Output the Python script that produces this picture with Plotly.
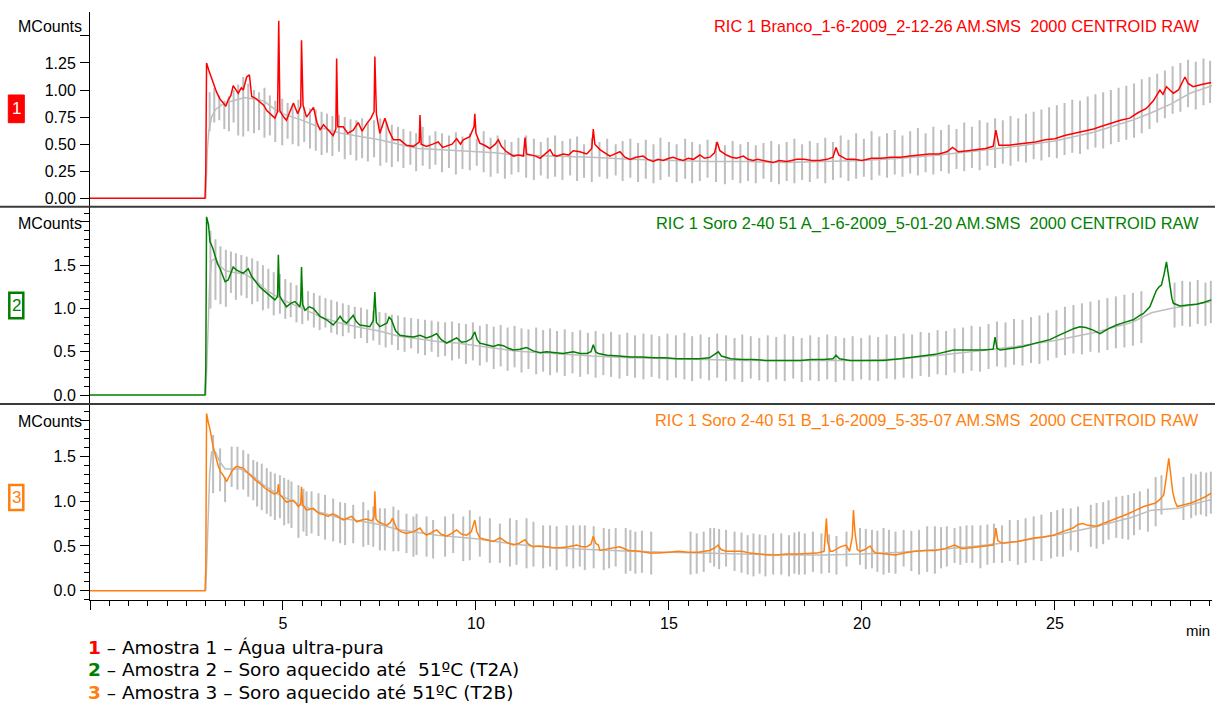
import plotly.graph_objects as go

# ---------------- DATA ----------------
# retention time (min), intensity (MCounts)
ric1 = [(0.0, 0.0), (2.98, 0.0), (3.00, 0.25), (3.02, 1.25), (3.08, 1.18), (3.19, 1.06), (3.28, 0.98),
        (3.36, 0.92), (3.45, 0.88), (3.52, 0.85), (3.58, 0.91), (3.65, 0.95), (3.71, 1.04), (3.78, 1.00),
        (3.84, 0.97), (3.92, 1.02), (3.97, 1.00), (4.06, 1.12), (4.13, 1.14), (4.19, 0.94), (4.30, 0.92),
        (4.40, 0.89), (4.50, 0.86), (4.58, 0.81), (4.68, 0.78), (4.79, 0.74), (4.86, 0.80), (4.89, 1.64),
        (4.92, 0.81), (5.00, 0.76), (5.09, 0.72), (5.18, 0.80), (5.27, 0.88), (5.38, 0.78), (5.46, 0.85),
        (5.48, 1.46), (5.52, 0.86), (5.61, 0.75), (5.70, 0.80), (5.79, 0.84), (5.88, 0.70), (5.96, 0.63),
        (6.05, 0.68), (6.13, 0.65), (6.22, 0.61), (6.30, 0.58), (6.37, 0.64), (6.39, 1.29), (6.42, 0.66),
        (6.56, 0.66), (6.68, 0.60), (6.82, 0.63), (6.95, 0.70), (7.05, 0.62), (7.17, 0.69), (7.28, 0.74),
        (7.36, 0.80), (7.38, 1.31), (7.42, 0.78), (7.51, 0.60), (7.64, 0.74), (7.75, 0.62), (7.86, 0.54),
        (8.03, 0.54), (8.20, 0.49), (8.38, 0.48), (8.53, 0.52), (8.55, 0.77), (8.58, 0.50), (8.72, 0.48),
        (8.88, 0.50), (9.02, 0.52), (9.14, 0.47), (9.24, 0.48), (9.38, 0.50), (9.50, 0.55), (9.60, 0.50),
        (9.67, 0.54), (9.84, 0.57), (9.95, 0.66), (9.97, 0.78), (10.00, 0.60), (10.10, 0.51), (10.22, 0.49),
        (10.36, 0.46), (10.50, 0.50), (10.58, 0.54), (10.66, 0.48), (10.79, 0.43), (10.97, 0.39), (11.10, 0.40),
        (11.23, 0.39), (11.27, 0.56), (11.31, 0.41), (11.40, 0.40), (11.55, 0.39), (11.66, 0.37), (11.80, 0.41),
        (11.92, 0.45), (12.00, 0.40), (12.09, 0.39), (12.26, 0.41), (12.40, 0.40), (12.52, 0.44), (12.69, 0.43),
        (12.87, 0.41), (13.00, 0.46), (13.04, 0.64), (13.08, 0.50), (13.21, 0.45), (13.35, 0.42), (13.47, 0.39),
        (13.60, 0.41), (13.73, 0.43), (13.86, 0.38), (13.99, 0.36), (14.15, 0.38), (14.33, 0.39), (14.45, 0.36),
        (14.59, 0.34), (14.72, 0.36), (14.85, 0.35), (15.00, 0.37), (15.11, 0.38), (15.25, 0.36), (15.37, 0.35),
        (15.50, 0.37), (15.63, 0.36), (15.80, 0.40), (15.92, 0.37), (16.06, 0.38), (16.18, 0.42), (16.25, 0.52),
        (16.32, 0.44), (16.49, 0.40), (16.62, 0.38), (16.75, 0.37), (16.93, 0.39), (17.05, 0.36), (17.18, 0.35),
        (17.30, 0.36), (17.44, 0.35), (17.58, 0.34), (17.70, 0.33), (17.85, 0.35), (18.05, 0.34), (18.18, 0.35),
        (18.31, 0.36), (18.50, 0.36), (18.70, 0.35), (18.90, 0.35), (19.10, 0.36), (19.25, 0.38), (19.33, 0.47),
        (19.40, 0.40), (19.60, 0.36), (19.80, 0.36), (20.00, 0.35), (20.25, 0.37), (20.50, 0.37), (20.75, 0.38),
        (21.00, 0.38), (21.25, 0.39), (21.50, 0.40), (21.75, 0.41), (22.00, 0.41), (22.20, 0.43), (22.35, 0.47),
        (22.50, 0.43), (22.75, 0.44), (23.00, 0.45), (23.20, 0.46), (23.40, 0.48), (23.47, 0.63), (23.55, 0.49),
        (23.80, 0.49), (24.00, 0.50), (24.25, 0.51), (24.50, 0.52), (24.75, 0.54), (25.00, 0.55), (25.25, 0.58),
        (25.50, 0.60), (25.75, 0.62), (26.00, 0.64), (26.25, 0.67), (26.50, 0.70), (26.70, 0.72), (26.94, 0.74),
        (27.15, 0.79), (27.37, 0.83), (27.55, 0.90), (27.72, 1.00), (27.80, 0.96), (27.89, 1.03), (28.07, 0.97),
        (28.20, 1.00), (28.30, 1.08), (28.37, 1.12), (28.45, 1.06), (28.58, 1.03), (28.80, 1.05), (29.05, 1.07)]

ric2 = [(0.0, 0.0), (2.98, 0.0), (3.00, 0.30), (3.02, 2.06), (3.07, 1.97), (3.11, 1.77), (3.18, 1.70),
        (3.24, 1.60), (3.30, 1.52), (3.37, 1.46), (3.44, 1.38), (3.50, 1.31), (3.58, 1.33), (3.65, 1.42),
        (3.71, 1.48), (3.78, 1.45), (3.84, 1.43), (3.90, 1.42), (3.97, 1.41), (4.04, 1.44), (4.10, 1.46),
        (4.19, 1.37), (4.30, 1.30), (4.40, 1.25), (4.50, 1.21), (4.62, 1.16), (4.72, 1.12), (4.79, 1.10),
        (4.86, 1.14), (4.88, 1.62), (4.91, 1.15), (4.97, 1.10), (5.09, 1.02), (5.20, 1.06), (5.31, 1.08),
        (5.44, 1.02), (5.46, 1.10), (5.48, 1.48), (5.51, 1.05), (5.57, 0.98), (5.68, 1.02), (5.79, 1.00),
        (5.88, 0.95), (5.96, 0.91), (6.13, 0.87), (6.30, 0.81), (6.40, 0.86), (6.48, 0.91), (6.56, 0.86),
        (6.65, 0.83), (6.74, 0.88), (6.82, 0.92), (6.90, 0.85), (6.99, 0.81), (7.12, 0.80), (7.25, 0.79),
        (7.34, 0.86), (7.38, 1.19), (7.42, 0.84), (7.51, 0.79), (7.60, 0.81), (7.69, 0.83), (7.75, 0.90),
        (7.81, 0.87), (7.92, 0.74), (8.03, 0.69), (8.20, 0.68), (8.38, 0.67), (8.55, 0.69), (8.72, 0.66),
        (8.85, 0.68), (8.98, 0.71), (9.10, 0.64), (9.24, 0.60), (9.37, 0.63), (9.50, 0.66), (9.63, 0.61),
        (9.76, 0.62), (9.88, 0.65), (9.97, 0.73), (10.03, 0.64), (10.10, 0.60), (10.27, 0.58), (10.45, 0.56),
        (10.58, 0.58), (10.71, 0.57), (10.84, 0.54), (10.97, 0.52), (11.14, 0.53), (11.31, 0.55), (11.48, 0.51),
        (11.66, 0.49), (11.83, 0.50), (12.00, 0.49), (12.26, 0.48), (12.52, 0.50), (12.70, 0.48), (12.87, 0.48),
        (12.98, 0.50), (13.04, 0.58), (13.10, 0.50), (13.17, 0.48), (13.40, 0.46), (13.70, 0.45), (14.00, 0.44),
        (14.30, 0.44), (14.60, 0.43), (14.90, 0.43), (15.20, 0.42), (15.50, 0.42), (15.80, 0.42), (16.05, 0.43),
        (16.20, 0.47), (16.28, 0.50), (16.36, 0.45), (16.60, 0.42), (16.90, 0.41), (17.20, 0.41), (17.50, 0.40),
        (17.80, 0.40), (18.10, 0.40), (18.40, 0.40), (18.70, 0.41), (19.00, 0.41), (19.25, 0.42), (19.33, 0.46),
        (19.42, 0.42), (19.69, 0.40), (20.10, 0.40), (20.55, 0.40), (21.00, 0.42), (21.42, 0.44), (21.90, 0.47),
        (22.37, 0.52), (22.75, 0.52), (23.14, 0.52), (23.40, 0.53), (23.45, 0.67), (23.50, 0.54), (23.58, 0.52),
        (23.90, 0.54), (24.18, 0.56), (24.50, 0.60), (24.87, 0.64), (25.10, 0.69), (25.30, 0.73), (25.50, 0.77),
        (25.65, 0.79), (25.80, 0.78), (25.99, 0.75), (26.17, 0.71), (26.40, 0.77), (26.60, 0.81), (26.80, 0.84),
        (27.03, 0.87), (27.20, 0.92), (27.29, 0.94), (27.46, 1.02), (27.55, 1.12), (27.63, 1.21), (27.70, 1.25),
        (27.76, 1.27), (27.83, 1.40), (27.89, 1.54), (27.93, 1.42), (27.98, 1.25), (28.03, 1.12), (28.07, 1.06),
        (28.24, 1.03), (28.45, 1.04), (28.67, 1.05), (28.85, 1.07), (29.05, 1.10)]

ric3 = [(0.0, 0.0), (2.98, 0.0), (3.00, 0.25), (3.02, 1.98), (3.07, 1.87), (3.11, 1.80), (3.19, 1.61),
        (3.25, 1.50), (3.32, 1.40), (3.38, 1.33), (3.45, 1.29), (3.54, 1.22), (3.60, 1.27), (3.67, 1.33),
        (3.74, 1.37), (3.80, 1.39), (3.88, 1.38), (3.97, 1.37), (4.08, 1.32), (4.19, 1.27), (4.30, 1.23),
        (4.40, 1.20), (4.52, 1.15), (4.66, 1.11), (4.78, 1.08), (4.86, 1.10), (4.88, 1.19), (4.91, 1.08),
        (5.00, 1.03), (5.09, 0.99), (5.18, 1.00), (5.27, 1.01), (5.40, 0.94), (5.46, 0.97), (5.48, 1.16),
        (5.51, 0.96), (5.61, 0.90), (5.70, 0.91), (5.79, 0.92), (5.88, 0.88), (5.96, 0.86), (6.06, 0.85),
        (6.17, 0.83), (6.28, 0.86), (6.39, 0.84), (6.48, 0.81), (6.56, 0.79), (6.67, 0.81), (6.78, 0.83),
        (6.91, 0.77), (7.04, 0.79), (7.17, 0.80), (7.30, 0.78), (7.36, 0.82), (7.38, 1.11), (7.41, 0.80),
        (7.47, 0.77), (7.58, 0.75), (7.69, 0.73), (7.78, 0.76), (7.84, 0.81), (7.94, 0.70), (8.05, 0.66),
        (8.20, 0.64), (8.38, 0.66), (8.55, 0.70), (8.63, 0.65), (8.72, 0.62), (8.85, 0.65), (8.98, 0.68),
        (9.10, 0.63), (9.24, 0.61), (9.37, 0.64), (9.50, 0.68), (9.63, 0.63), (9.76, 0.62), (9.88, 0.66),
        (9.97, 0.79), (10.02, 0.66), (10.10, 0.59), (10.27, 0.57), (10.45, 0.55), (10.62, 0.59), (10.80, 0.54),
        (10.97, 0.51), (11.12, 0.53), (11.27, 0.57), (11.36, 0.52), (11.48, 0.49), (11.65, 0.50), (11.83, 0.49),
        (12.00, 0.48), (12.18, 0.48), (12.40, 0.49), (12.61, 0.51), (12.75, 0.49), (12.87, 0.49), (12.98, 0.52),
        (13.04, 0.61), (13.10, 0.53), (13.17, 0.51), (13.21, 0.45), (13.45, 0.47), (13.72, 0.49), (13.95, 0.45),
        (14.23, 0.44), (14.50, 0.42), (14.74, 0.42), (15.00, 0.43), (15.25, 0.44), (15.50, 0.43), (15.76, 0.43),
        (16.05, 0.45), (16.20, 0.48), (16.27, 0.51), (16.35, 0.46), (16.48, 0.44), (16.70, 0.44), (16.89, 0.44),
        (17.10, 0.42), (17.30, 0.41), (17.55, 0.40), (17.81, 0.40), (18.05, 0.41), (18.32, 0.41), (18.60, 0.42),
        (18.83, 0.42), (19.02, 0.44), (19.06, 0.70), (19.08, 0.81), (19.11, 0.55), (19.18, 0.44), (19.24, 0.44),
        (19.35, 0.47), (19.44, 0.49), (19.59, 0.51), (19.68, 0.44), (19.75, 0.60), (19.78, 0.90), (19.82, 0.65),
        (19.88, 0.46), (19.95, 0.44), (20.08, 0.46), (20.21, 0.50), (20.30, 0.44), (20.36, 0.42), (20.60, 0.41),
        (20.87, 0.40), (21.10, 0.42), (21.38, 0.44), (21.65, 0.45), (21.89, 0.45), (22.15, 0.47), (22.30, 0.49),
        (22.40, 0.51), (22.61, 0.47), (22.80, 0.48), (23.02, 0.49), (23.25, 0.50), (23.40, 0.51), (23.45, 0.62),
        (23.47, 0.70), (23.52, 0.56), (23.63, 0.53), (23.85, 0.54), (24.04, 0.55), (24.25, 0.57), (24.45, 0.59),
        (24.70, 0.60), (24.96, 0.62), (25.20, 0.66), (25.47, 0.70), (25.60, 0.74), (25.72, 0.75), (25.85, 0.73),
        (26.08, 0.72), (26.30, 0.76), (26.49, 0.79), (26.70, 0.82), (26.90, 0.86), (27.10, 0.90), (27.30, 0.94),
        (27.45, 0.96), (27.61, 0.98), (27.72, 1.02), (27.82, 1.07), (27.88, 1.25), (27.95, 1.48), (28.00, 1.30),
        (28.05, 1.11), (28.11, 1.00), (28.17, 0.94), (28.35, 0.96), (28.53, 0.98), (28.75, 1.02), (28.90, 1.05),
        (29.05, 1.09)]

# grey reference trace (smooth part)
grey1 = [(3.00, 0.00), (3.04, 0.45), (3.08, 0.62), (3.15, 0.75), (3.25, 0.82), (3.40, 0.86), (3.60, 0.89),
         (3.80, 0.91), (4.00, 0.93), (4.20, 0.92), (4.50, 0.90), (4.80, 0.82), (5.00, 0.78), (5.50, 0.72),
         (6.00, 0.65), (6.50, 0.60), (7.00, 0.57), (7.50, 0.54), (8.00, 0.50), (8.50, 0.46), (9.00, 0.45),
         (9.50, 0.44), (10.00, 0.43), (10.50, 0.42), (11.00, 0.40), (12.00, 0.39), (13.00, 0.38), (14.00, 0.36),
         (15.00, 0.35), (16.00, 0.34), (17.00, 0.34), (18.00, 0.33), (19.00, 0.34), (20.00, 0.35), (21.00, 0.37),
         (22.00, 0.40), (23.00, 0.44), (24.00, 0.48), (25.00, 0.53), (26.00, 0.61), (27.00, 0.72), (27.50, 0.79),
         (28.00, 0.87), (28.50, 0.97), (29.07, 1.04)]

grey2 = [(3.00, 0.00), (3.03, 0.40), (3.06, 0.95), (3.10, 1.30), (3.15, 1.55), (3.25, 1.58), (3.35, 1.50),
         (3.50, 1.44), (3.70, 1.42), (4.00, 1.40), (4.30, 1.32), (4.60, 1.20), (5.00, 1.10), (5.50, 1.00),
         (6.00, 0.90), (6.50, 0.83), (7.00, 0.78), (7.50, 0.74), (8.00, 0.68), (8.50, 0.65), (9.00, 0.62),
         (9.50, 0.60), (10.00, 0.57), (10.50, 0.54), (11.00, 0.51), (12.00, 0.48), (13.00, 0.45), (14.00, 0.43),
         (15.00, 0.42), (16.00, 0.41), (17.00, 0.40), (18.00, 0.40), (19.00, 0.40), (20.00, 0.40), (21.00, 0.42),
         (22.00, 0.46), (23.00, 0.51), (24.00, 0.56), (25.00, 0.63), (26.00, 0.72), (27.00, 0.84), (27.50, 0.95),
         (28.00, 1.00), (28.50, 1.04), (29.07, 1.08)]

grey3 = [(3.00, 0.00), (3.03, 0.40), (3.06, 0.90), (3.10, 1.30), (3.15, 1.55), (3.25, 1.55), (3.35, 1.45),
         (3.50, 1.36), (3.70, 1.36), (3.90, 1.36), (4.20, 1.29), (4.50, 1.18), (4.90, 1.07), (5.50, 0.95),
         (6.00, 0.87), (6.50, 0.81), (7.00, 0.78), (7.50, 0.74), (8.00, 0.68), (8.50, 0.65), (9.00, 0.62),
         (9.50, 0.60), (10.00, 0.58), (10.50, 0.55), (11.00, 0.52), (11.50, 0.50), (12.00, 0.48), (12.50, 0.47),
         (13.00, 0.46), (14.00, 0.44), (15.00, 0.43), (16.00, 0.42), (17.00, 0.41), (18.00, 0.40), (19.00, 0.40),
         (20.00, 0.41), (21.00, 0.43), (22.00, 0.46), (23.00, 0.50), (24.00, 0.55), (25.00, 0.62), (26.00, 0.71),
         (27.00, 0.82), (27.50, 0.90), (28.20, 0.92), (28.60, 0.97), (29.07, 1.02)]

# grey vertical dropouts: (time, low, high)
drop1 = [(3.10, 0.62, 0.98), (3.22, 0.70, 1.02), (3.35, 0.72, 0.95), (3.48, 0.64, 0.90), (3.60, 0.62, 0.94),
         (3.72, 0.70, 1.00), (3.84, 0.58, 1.05), (3.97, 0.57, 1.12), (4.10, 0.62, 1.06), (4.25, 0.60, 1.00),
         (4.38, 0.63, 0.98), (4.52, 0.56, 1.02), (4.66, 0.58, 0.95), (4.80, 0.52, 0.90), (4.98, 0.49, 0.92),
         (5.12, 0.55, 0.88), (5.25, 0.50, 0.86), (5.40, 0.48, 0.91), (5.55, 0.52, 0.84), (5.70, 0.46, 0.83),
         (5.85, 0.44, 0.82), (6.00, 0.40, 0.80), (6.14, 0.42, 0.78), (6.28, 0.39, 0.76), (6.45, 0.43, 0.77),
         (6.60, 0.36, 0.75), (6.75, 0.40, 0.73), (6.90, 0.35, 0.72), (7.05, 0.37, 0.74), (7.20, 0.34, 0.70),
         (7.36, 0.38, 0.72), (7.52, 0.30, 0.74), (7.68, 0.33, 0.70), (7.82, 0.29, 0.68), (7.98, 0.34, 0.66),
         (8.12, 0.28, 0.64), (8.30, 0.31, 0.62), (8.45, 0.25, 0.60), (8.62, 0.30, 0.66), (8.80, 0.27, 0.58),
         (8.95, 0.31, 0.62), (9.12, 0.24, 0.60), (9.30, 0.28, 0.58), (9.48, 0.22, 0.61), (9.65, 0.27, 0.57),
         (9.84, 0.26, 0.60), (10.02, 0.30, 0.55), (10.20, 0.24, 0.62), (10.38, 0.20, 0.56), (10.56, 0.23, 0.58),
         (10.75, 0.18, 0.54), (10.92, 0.22, 0.52), (11.10, 0.24, 0.56), (11.30, 0.19, 0.58), (11.50, 0.17, 0.55),
         (11.68, 0.21, 0.52), (11.86, 0.18, 0.56), (12.05, 0.20, 0.58), (12.24, 0.17, 0.53), (12.44, 0.21, 0.55),
         (12.62, 0.16, 0.57), (12.80, 0.19, 0.50), (13.00, 0.15, 0.56), (13.20, 0.20, 0.52), (13.40, 0.18, 0.55),
         (13.62, 0.21, 0.50), (13.80, 0.16, 0.53), (14.00, 0.19, 0.55), (14.20, 0.15, 0.51), (14.40, 0.18, 0.54),
         (14.60, 0.14, 0.50), (14.78, 0.17, 0.56), (15.00, 0.20, 0.52), (15.20, 0.15, 0.50), (15.42, 0.18, 0.55),
         (15.60, 0.14, 0.52), (15.80, 0.16, 0.50), (16.00, 0.19, 0.54), (16.22, 0.15, 0.52), (16.45, 0.13, 0.49),
         (16.65, 0.17, 0.53), (16.85, 0.14, 0.50), (17.05, 0.16, 0.52), (17.25, 0.14, 0.49), (17.45, 0.18, 0.51),
         (17.65, 0.15, 0.53), (17.85, 0.13, 0.50), (18.05, 0.16, 0.52), (18.25, 0.14, 0.55), (18.45, 0.17, 0.50),
         (18.65, 0.15, 0.53), (18.85, 0.18, 0.51), (19.05, 0.14, 0.56), (19.25, 0.17, 0.52), (19.45, 0.19, 0.58),
         (19.65, 0.16, 0.54), (19.85, 0.18, 0.60), (20.05, 0.20, 0.55), (20.25, 0.17, 0.62), (20.45, 0.21, 0.57),
         (20.65, 0.19, 0.60), (20.85, 0.22, 0.63), (21.05, 0.20, 0.58), (21.25, 0.23, 0.62), (21.45, 0.21, 0.65),
         (21.65, 0.24, 0.60), (21.85, 0.22, 0.66), (22.05, 0.25, 0.63), (22.25, 0.23, 0.68), (22.45, 0.27, 0.64),
         (22.65, 0.25, 0.70), (22.85, 0.28, 0.66), (23.05, 0.26, 0.72), (23.25, 0.30, 0.70), (23.45, 0.28, 0.74),
         (23.65, 0.32, 0.72), (23.85, 0.30, 0.76), (24.05, 0.34, 0.74), (24.25, 0.33, 0.78), (24.45, 0.36, 0.80),
         (24.65, 0.35, 0.82), (24.85, 0.38, 0.84), (25.05, 0.37, 0.86), (25.25, 0.40, 0.88), (25.45, 0.42, 0.91),
         (25.65, 0.41, 0.90), (25.85, 0.45, 0.94), (26.05, 0.47, 0.96), (26.25, 0.46, 0.98), (26.45, 0.50, 1.00),
         (26.65, 0.52, 1.02), (26.85, 0.54, 1.04), (27.05, 0.56, 1.06), (27.25, 0.60, 1.10), (27.45, 0.64, 1.12),
         (27.65, 0.70, 1.15), (27.85, 0.74, 1.18), (28.05, 0.78, 1.22), (28.25, 0.80, 1.25), (28.45, 0.84, 1.28),
         (28.65, 0.82, 1.26), (28.85, 0.86, 1.29), (29.02, 0.88, 1.27)]

drop2 = [(3.12, 1.00, 1.90), (3.25, 1.10, 1.80), (3.38, 1.05, 1.72), (3.52, 1.02, 1.68), (3.65, 1.18, 1.66),
         (3.78, 1.10, 1.64), (3.92, 1.15, 1.62), (4.06, 1.12, 1.60), (4.20, 1.05, 1.58), (4.34, 1.08, 1.55),
         (4.48, 0.98, 1.50), (4.62, 1.00, 1.46), (4.76, 0.92, 1.42), (4.92, 0.94, 1.40), (5.06, 0.88, 1.34),
         (5.20, 0.90, 1.30), (5.35, 0.84, 1.27), (5.50, 0.82, 1.24), (5.65, 0.86, 1.20), (5.80, 0.78, 1.18),
         (5.95, 0.75, 1.15), (6.10, 0.78, 1.12), (6.25, 0.72, 1.10), (6.40, 0.70, 1.08), (6.55, 0.68, 1.06),
         (6.70, 0.72, 1.04), (6.86, 0.65, 1.02), (7.02, 0.66, 1.01), (7.18, 0.60, 0.99), (7.34, 0.63, 0.97),
         (7.50, 0.58, 0.96), (7.66, 0.55, 0.95), (7.82, 0.58, 0.93), (7.98, 0.52, 0.92), (8.15, 0.50, 0.90),
         (8.32, 0.54, 0.89), (8.50, 0.48, 0.88), (8.68, 0.46, 0.87), (8.85, 0.50, 0.86), (9.02, 0.44, 0.85),
         (9.20, 0.45, 0.84), (9.38, 0.40, 0.85), (9.56, 0.42, 0.83), (9.74, 0.36, 0.82), (9.92, 0.40, 0.84),
         (10.10, 0.34, 0.80), (10.28, 0.38, 0.82), (10.46, 0.30, 0.79), (10.64, 0.33, 0.81), (10.82, 0.28, 0.78),
         (11.00, 0.32, 0.80), (11.18, 0.26, 0.77), (11.36, 0.30, 0.76), (11.56, 0.24, 0.78), (11.74, 0.27, 0.75),
         (11.92, 0.23, 0.77), (12.10, 0.26, 0.74), (12.30, 0.22, 0.76), (12.50, 0.25, 0.73), (12.70, 0.21, 0.75),
         (12.90, 0.24, 0.72), (13.10, 0.20, 0.74), (13.30, 0.23, 0.71), (13.50, 0.21, 0.73), (13.72, 0.19, 0.70),
         (13.92, 0.22, 0.72), (14.12, 0.20, 0.69), (14.34, 0.18, 0.71), (14.55, 0.21, 0.70), (14.75, 0.19, 0.68),
         (14.96, 0.17, 0.71), (15.18, 0.20, 0.69), (15.40, 0.18, 0.72), (15.60, 0.16, 0.68), (15.82, 0.19, 0.70),
         (16.04, 0.17, 0.67), (16.25, 0.20, 0.71), (16.48, 0.16, 0.69), (16.70, 0.18, 0.66), (16.90, 0.15, 0.70),
         (17.12, 0.19, 0.68), (17.34, 0.17, 0.66), (17.56, 0.15, 0.69), (17.78, 0.18, 0.67), (18.00, 0.16, 0.70),
         (18.22, 0.19, 0.68), (18.44, 0.15, 0.66), (18.66, 0.17, 0.69), (18.88, 0.16, 0.67), (19.10, 0.18, 0.70),
         (19.32, 0.15, 0.68), (19.54, 0.17, 0.66), (19.76, 0.16, 0.68), (19.98, 0.18, 0.66), (20.20, 0.17, 0.69),
         (20.42, 0.16, 0.67), (20.64, 0.19, 0.70), (20.86, 0.18, 0.68), (21.08, 0.20, 0.71), (21.30, 0.19, 0.70),
         (21.52, 0.22, 0.73), (21.74, 0.21, 0.72), (21.96, 0.24, 0.75), (22.18, 0.23, 0.74), (22.40, 0.26, 0.77),
         (22.62, 0.25, 0.78), (22.84, 0.28, 0.80), (23.06, 0.27, 0.79), (23.28, 0.30, 0.82), (23.50, 0.33, 0.85),
         (23.72, 0.32, 0.84), (23.94, 0.35, 0.88), (24.16, 0.34, 0.87), (24.38, 0.37, 0.90), (24.60, 0.36, 0.92),
         (24.82, 0.40, 0.95), (25.04, 0.43, 0.98), (25.26, 0.46, 1.02), (25.48, 0.48, 1.04), (25.70, 0.47, 1.06),
         (25.92, 0.50, 1.08), (26.14, 0.49, 1.10), (26.36, 0.52, 1.12), (26.58, 0.54, 1.14), (26.80, 0.55, 1.16),
         (27.02, 0.57, 1.18), (27.24, 0.60, 1.20), (28.10, 0.78, 1.30), (28.30, 0.80, 1.32), (28.50, 0.79, 1.31),
         (28.70, 0.82, 1.33), (28.90, 0.80, 1.30), (29.04, 0.83, 1.32)]

drop3 = [(3.19, 1.09, 1.74), (3.37, 1.11, 1.59), (3.50, 0.99, 1.27), (3.67, 1.16, 1.61), (3.82, 1.13, 1.61),
         (3.97, 1.13, 1.57), (4.10, 1.05, 1.53), (4.23, 1.01, 1.46), (4.33, 0.94, 1.44), (4.45, 0.90, 1.42),
         (4.58, 0.86, 1.37), (4.68, 0.83, 1.33), (4.79, 0.79, 1.31), (4.92, 0.81, 1.29), (5.03, 0.73, 1.26),
         (5.14, 0.75, 1.24), (5.22, 0.70, 1.22), (5.40, 0.59, 1.18), (5.53, 0.66, 1.14), (5.61, 0.61, 1.11),
         (5.74, 0.64, 1.11), (5.92, 0.61, 1.09), (6.09, 0.57, 1.07), (6.30, 0.55, 1.03), (6.48, 0.53, 0.99),
         (6.61, 0.51, 0.98), (6.82, 0.53, 0.96), (7.08, 0.49, 0.99), (7.21, 0.51, 0.90), (7.34, 0.49, 0.94),
         (7.51, 0.45, 0.92), (7.64, 0.45, 0.92), (7.86, 0.44, 0.94), (7.99, 0.44, 0.90), (8.20, 0.42, 0.86),
         (8.38, 0.38, 0.83), (8.46, 0.40, 0.86), (8.72, 0.38, 0.83), (8.89, 0.36, 0.79), (9.20, 0.38, 0.83),
         (9.41, 0.42, 0.86), (9.67, 0.33, 0.83), (9.84, 0.34, 0.90), (10.10, 0.38, 0.83), (10.36, 0.31, 0.81),
         (10.62, 0.31, 0.75), (10.88, 0.27, 0.81), (11.05, 0.29, 0.79), (11.31, 0.25, 0.81), (11.49, 0.27, 0.77),
         (11.74, 0.25, 0.73), (11.92, 0.27, 0.73), (12.09, 0.23, 0.72), (12.35, 0.27, 0.73), (12.52, 0.25, 0.73),
         (12.69, 0.27, 0.73), (12.82, 0.23, 0.73), (13.05, 0.25, 0.72), (13.31, 0.23, 0.70), (13.45, 0.25, 0.69),
         (13.62, 0.27, 0.70), (13.88, 0.19, 0.70), (14.00, 0.22, 0.68), (14.13, 0.19, 0.66), (14.30, 0.20, 0.67),
         (14.54, 0.18, 0.66), (15.56, 0.18, 0.66), (15.72, 0.19, 0.64), (15.90, 0.21, 0.66), (16.07, 0.31, 0.70),
         (16.17, 0.27, 0.70), (16.30, 0.24, 0.69), (16.48, 0.27, 0.68), (16.70, 0.22, 0.66), (16.88, 0.20, 0.65),
         (17.04, 0.18, 0.62), (17.19, 0.16, 0.64), (17.35, 0.19, 0.63), (17.50, 0.16, 0.62), (17.70, 0.18, 0.64),
         (17.91, 0.18, 0.64), (18.11, 0.16, 0.62), (18.25, 0.19, 0.65), (18.37, 0.18, 0.66), (18.52, 0.18, 0.64),
         (18.73, 0.21, 0.66), (18.95, 0.19, 0.64), (19.15, 0.20, 0.63), (19.34, 0.18, 0.61), (19.60, 0.27, 0.66),
         (19.95, 0.29, 0.70), (20.10, 0.24, 0.69), (20.26, 0.25, 0.68), (20.40, 0.21, 0.67), (20.56, 0.18, 0.70),
         (20.70, 0.20, 0.68), (20.87, 0.19, 0.66), (21.08, 0.27, 0.68), (21.28, 0.22, 0.67), (21.48, 0.18, 0.68),
         (21.69, 0.21, 0.72), (21.89, 0.19, 0.72), (22.05, 0.25, 0.71), (22.20, 0.27, 0.72), (22.40, 0.31, 0.70),
         (22.55, 0.29, 0.72), (22.71, 0.31, 0.73), (22.86, 0.31, 0.73), (23.07, 0.25, 0.73), (23.25, 0.29, 0.74),
         (23.42, 0.31, 0.75), (23.63, 0.31, 0.73), (23.83, 0.33, 0.79), (24.04, 0.29, 0.79), (24.24, 0.31, 0.81),
         (24.45, 0.34, 0.83), (24.65, 0.33, 0.85), (24.90, 0.36, 0.88), (25.06, 0.38, 0.90), (25.21, 0.38, 0.92),
         (25.41, 0.45, 0.92), (25.60, 0.43, 0.94), (25.93, 0.49, 0.96), (26.08, 0.47, 0.98), (26.25, 0.52, 0.99),
         (26.39, 0.57, 1.01), (26.59, 0.59, 1.05), (26.75, 0.58, 1.06), (26.90, 0.57, 1.07), (27.05, 0.62, 1.09),
         (27.20, 0.68, 1.11), (27.41, 0.66, 1.14), (27.61, 0.72, 1.27), (27.76, 0.85, 1.29), (28.33, 0.79, 1.27),
         (28.53, 0.81, 1.31), (28.65, 0.84, 1.30), (28.78, 0.85, 1.33), (28.92, 0.83, 1.32), (29.04, 0.86, 1.33)]

panel_titles = ["RIC 1 Branco_1-6-2009_2-12-26 AM.SMS\u00a0 2000 CENTROID RAW",
                "RIC 1 Soro 2-40 51 A_1-6-2009_5-01-20 AM.SMS\u00a0 2000 CENTROID RAW",
                "RIC 1 Soro 2-40 51 B_1-6-2009_5-35-07 AM.SMS\u00a0 2000 CENTROID RAW"]
legend_lines = ["Amostra 1 \u2013 \u00c1gua ultra-pura",
                "Amostra 2 \u2013 Soro aquecido at\u00e9 \u00a051\u00baC (T2A)",
                "Amostra 3 \u2013 Soro aquecido at\u00e9 51\u00baC (T2B)"]
x_ticks = [0, 5, 10, 15, 20, 25]
x_ticktext = ["", "5", "10", "15", "20", "25"]
y1_ticks = [0, 0.25, 0.5, 0.75, 1.0, 1.25, 1.5]
y1_text = ["0.00", "0.25", "0.50", "0.75", "1.00", "1.25", ""]
y2_ticks = [0, 0.5, 1.0, 1.5, 2.0]
y3_ticks = [0, 0.5, 1.0, 1.5, 1.9]
y23_text = ["0.0", "0.5", "1.0", "1.5", ""]

# ---------------- STYLE ----------------
RED, GREEN, ORANGE, GREY = "#FF0000", "#007F00", "#FF7F0E", "#BEBEBE"
ARIAL = "Liberation Sans, Arial, sans-serif"
colors = [RED, GREEN, ORANGE]


def unzip(rows):
    return [r[0] for r in rows], [r[1] for r in rows]


def drop_segments(rows):
    xs, ys = [], []
    for t, lo, hi in rows:
        xs += [t, t, None]
        ys += [lo, hi, None]
    return xs, ys


fig = go.Figure()
for i, (grey, drops, ric) in enumerate([(grey1, drop1, ric1), (grey2, drop2, ric2), (grey3, drop3, ric3)]):
    ya = "y" if i == 0 else "y%d" % (i + 1)
    gx, gy = unzip(grey)
    fig.add_trace(go.Scatter(x=gx, y=gy, mode="lines", line=dict(color=GREY, width=1.5),
                             xaxis="x", yaxis=ya, hoverinfo="skip"))
    dx, dy = drop_segments(drops)
    fig.add_trace(go.Scatter(x=dx, y=dy, mode="lines", line=dict(color=GREY, width=2),
                             xaxis="x", yaxis=ya, hoverinfo="skip", connectgaps=False))
    rx, ry = unzip(ric)
    fig.add_trace(go.Scatter(x=rx, y=ry, mode="lines", line=dict(color=colors[i], width=1.5),
                             xaxis="x", yaxis=ya))

tickfont = dict(family=ARIAL, size=16, color="#000000")
common_y = dict(showline=True, linecolor="#000000", linewidth=1, ticks="outside", ticklen=9,
                tickcolor="#000000", showgrid=False, zeroline=False, tickfont=tickfont, anchor="x",
                ticklabelstandoff=1)

D1, D2 = 0.3333, 0.6689
fig.update_layout(
    width=1215, height=706,
    margin=dict(l=90, r=3, t=12, b=106),
    plot_bgcolor="white", paper_bgcolor="white",
    showlegend=False,
    xaxis=dict(domain=[0, 1], range=[0, 29.07], anchor="y3", showline=True, linecolor="#000000",
               linewidth=1, ticks="outside", ticklen=9, tickcolor="#000000", tickvals=x_ticks,
               ticktext=x_ticktext, tickfont=tickfont, showgrid=False, zeroline=False,
               minor=dict(tick0=0, dtick=0.5, ticks="outside", ticklen=5, tickcolor="#000000")),
    yaxis=dict(domain=[D2, 1.0], range=[-0.077, 1.72], tickvals=y1_ticks, ticktext=y1_text, **common_y),
    yaxis2=dict(domain=[D1, D2], range=[-0.104, 2.177], tickvals=y2_ticks, ticktext=y23_text,
                minor=dict(tick0=0, dtick=0.1, ticks="outside", ticklen=5, tickcolor="#000000"), **common_y),
    yaxis3=dict(domain=[0, D1], range=[-0.104, 2.086], tickvals=y3_ticks, ticktext=y23_text,
                minor=dict(tick0=0, dtick=0.1, ticks="outside", ticklen=5, tickcolor="#000000"), **common_y),
)

PW, PH = 1122.0, 588.0


def px_x(px):
    return (px - 90) / PW


def px_y(py):
    return (600 - py) / PH


shapes = []
# panel separators
for py in (206.7, 404.0):
    shapes.append(dict(type="line", xref="paper", yref="paper", x0=px_x(0), x1=px_x(1215),
                       y0=px_y(py), y1=px_y(py), line=dict(color="#3A3A3A", width=2)))
# numbered boxes
box_rows = [(95.0, 122.7), (291.7, 319.3), (484.0, 511.0)]
for i, (top, bot) in enumerate(box_rows):
    if i == 0:
        shapes.append(dict(type="rect", xref="paper", yref="paper", x0=px_x(8.3), x1=px_x(24.3),
                           y0=px_y(bot), y1=px_y(top), fillcolor=RED, line=dict(color=RED, width=1)))
    else:
        shapes.append(dict(type="rect", xref="paper", yref="paper", x0=px_x(9.3), x1=px_x(23.3),
                           y0=px_y(bot - 1), y1=px_y(top + 1), fillcolor="white",
                           line=dict(color=colors[i], width=2.5)))
fig.update_layout(shapes=shapes)

ann = []
title_y = [26.7, 223.3, 420.5]
mc_y = [26.7, 224.0, 421.7]
for i in range(3):
    ann.append(dict(text=panel_titles[i], xref="paper", yref="paper", x=px_x(1201), y=px_y(title_y[i]),
                    xanchor="right", yanchor="middle", showarrow=False,
                    font=dict(family=ARIAL, size=16.4, color=colors[i])))
    ann.append(dict(text="MCounts", xref="paper", yref="paper", x=px_x(83.5), y=px_y(mc_y[i]),
                    xanchor="right", yanchor="middle", showarrow=False,
                    font=dict(family=ARIAL, size=16, color="#000000")))
    top, bot = box_rows[i]
    ann.append(dict(text=str(i + 1), xref="paper", yref="paper", x=px_x(16.3), y=px_y((top + bot) / 2),
                    xanchor="center", yanchor="middle", showarrow=False,
                    font=dict(family=ARIAL, size=17, color="white" if i == 0 else colors[i])))
leg_y = [647.0, 669.0, 692.0]
for i in range(3):
    ann.append(dict(text="<b><span style='color:%s'>%d</span></b> \u2013 %s" % (colors[i], i + 1, legend_lines[i]),
                    xref="paper", yref="paper", x=px_x(86), y=px_y(leg_y[i]), xanchor="left",
                    yanchor="middle", showarrow=False, align="left",
                    font=dict(family="DejaVu Sans, sans-serif", size=18.5, color="#000000")))
ann.append(dict(text="min", xref="paper", yref="paper", x=px_x(1212), y=px_y(630), xanchor="right",
                yanchor="middle", showarrow=False, font=dict(family=ARIAL, size=15, color="#000000")))
fig.update_layout(annotations=ann)

fig.write_html("out.html", include_plotlyjs=True, config={"displayModeBar": False},
               post_script="document.body.style.margin='0';document.body.style.overflow='hidden';")
